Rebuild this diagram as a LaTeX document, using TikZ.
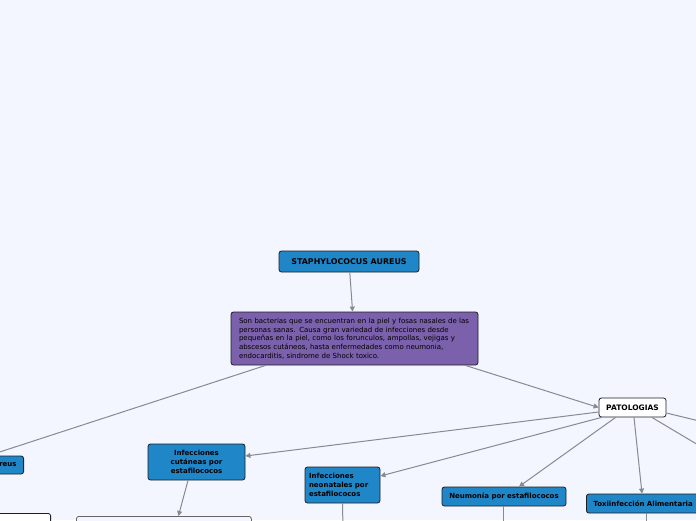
\documentclass[tikz,border=0pt]{standalone}
\usepackage{fontspec}
\setmainfont{DejaVu Sans}
\usetikzlibrary{arrows.meta}
\definecolor{bg}{RGB}{243,245,255}
\definecolor{nodeblue}{RGB}{31,134,200}
\definecolor{purp}{RGB}{123,96,172}
\definecolor{edgec}{RGB}{136,138,145}
\definecolor{bord}{RGB}{30,30,35}
\begin{document}
\begin{tikzpicture}[x=1pt,y=-1pt,
  box/.style={draw=bord, rounded corners=2.5pt, line width=0.8pt, inner sep=2pt, align=center,
    font=\bfseries\fontsize{7}{9}\selectfont},
  bluebox/.style={box, fill=nodeblue},
  conn/.style={draw=edgec, line width=1pt, -{Triangle[length=5pt,width=5pt]}},
  plain/.style={draw=edgec, line width=1pt}]
\fill[bg] (0,0) rectangle (696,520);
\useasboundingbox (0,0) rectangle (696,520);
\clip (0,0) rectangle (696,520);

\node[bluebox, minimum width=140pt, minimum height=21pt, font=\bfseries\fontsize{7.9}{9}\selectfont] (root) at (349,261.5) {STAPHYLOCOCUS AUREUS};
\node[box, fill=purp, minimum width=247pt, minimum height=53pt, text width=231pt, align=left,
  font=\fontsize{7}{8.7}\selectfont] (desc) at (354.5,338.5)
  {Son bacterias que se encuentran en la piel y fosas nasales de las\\
   personas sanas. Causa gran variedad de infecciones desde\\
   pequeñas en la piel, como los forunculos, ampollas, vejigas y\\
   abscesos cutáneos, hasta enfermedades como neumonia,\\
   endocarditis, sindrome de Shock toxico.};
\node[box, fill=white, minimum width=67pt, minimum height=19pt, font=\bfseries\fontsize{7.5}{9}\selectfont] (pat) at (632.5,407.5) {PATOLOGIAS};
\node[bluebox, minimum width=70pt, minimum height=18pt, text width=56pt, align=right, anchor=east] (sa) at (24,465) {reus};
\node[bluebox, minimum width=97pt, minimum height=36pt] (cut) at (196.5,462) {Infecciones\\cutáneas por\\estafilococos};
\node[bluebox, minimum width=75pt, minimum height=36pt, text width=67pt, align=left] (neo) at (342.5,485) {Infecciones\\neonatales por\\estafilococos};
\node[bluebox, minimum width=124pt, minimum height=19pt] (neu) at (504,496.5) {Neumonía por estafilococos};
\node[bluebox, minimum width=120pt, minimum height=19pt, text width=106pt, align=left, anchor=west] (tox) at (586,503.5) {Toxiinfección Alimentaria};
\node[box, fill=white, minimum width=100pt, minimum height=20pt, anchor=north east] (b1) at (51,513) {};
\node[box, fill=bg, draw=black!60, minimum width=175pt, minimum height=20pt, anchor=north west] (b2) at (76,516) {};

\coordinate (r1) at (720,426);
\coordinate (r2) at (720,458);
\coordinate (d1) at (343,530);
\coordinate (d2) at (503,530);
\coordinate (d3) at (646,530);

\draw[conn] (root) -- (desc);
\draw[conn] ([xshift=35pt]desc.south west) -- (sa.north);
\draw[conn] ([xshift=-13pt]desc.south east) -- (pat.west);
\draw[conn] ([yshift=-4.5pt]pat.west) -- ([yshift=6pt]cut.east);
\draw[conn] ([xshift=3pt]pat.south west) -- ([yshift=9pt]neo.east);
\draw[conn] ([xshift=17pt]pat.south west) -- ([xshift=15pt]neu.north);
\draw[conn] ([xshift=1.5pt]pat.south) -- ([xshift=56pt]tox.north west);
\draw[plain] ([yshift=-5.5pt]pat.east) -- (r1);
\draw[plain] ([xshift=-14.5pt]pat.south east) -- (r2);
\draw[conn] ([xshift=-8.5pt]cut.south) -- ([xshift=14.5pt]b2.north);
\draw[plain] (neo.south) -- (d1);
\draw[plain] ([xshift=-1pt]neu.south) -- (d2);
\draw[plain] ([xshift=60pt]tox.south west) -- (d3);
\end{tikzpicture}
\end{document}
